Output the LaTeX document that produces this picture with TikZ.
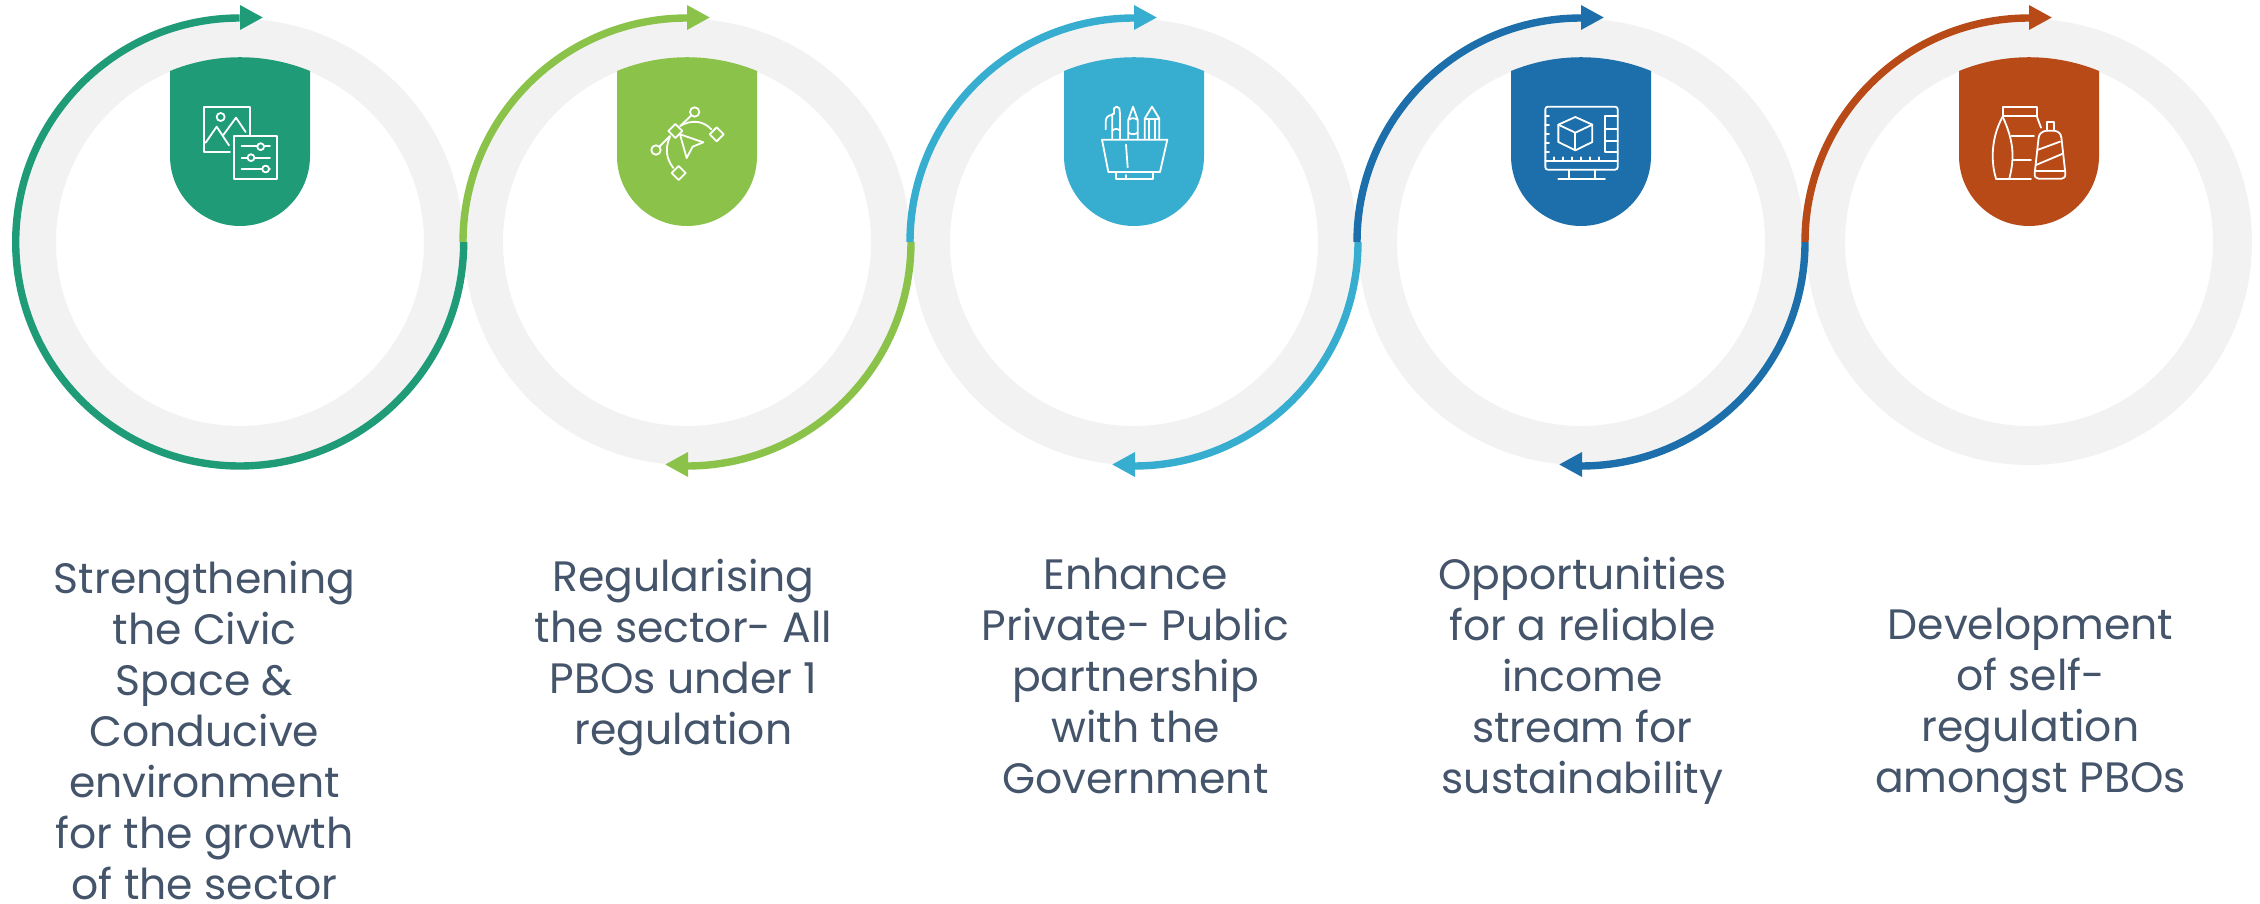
\documentclass[tikz,border=0pt]{standalone}
\usepackage{fontspec}
\setmainfont{Poppins}
\definecolor{cgreen}{HTML}{1F9C77}
\definecolor{clime}{HTML}{8BC34A}
\definecolor{csky}{HTML}{37AED0}
\definecolor{cblue}{HTML}{1C6FAB}
\definecolor{crust}{HTML}{B84A18}
\definecolor{cring}{HTML}{F2F2F2}
\definecolor{ctext}{HTML}{44546A}
\tikzset{
  ringline/.style={draw=cring,line width=39pt},
  arcline/.style={line width=7.4pt},
  iconline/.style={draw=white,line width=1.8pt,line join=round,line cap=round},
  caption/.style={text=ctext,align=center,font=\fontsize{42.5}{51}\selectfont,inner sep=0pt},
  iconscope/.style={x=0.33333pt,y=-0.33333pt}
}
% ring at centre x
\newcommand{\myring}[1]{\draw[ringline] (#1,242) circle[radius=203.5pt];}
% upper-left arc with arrow head
\newcommand{\myupper}[2]{%
  \draw[arcline,draw=#2] (#1-224,242) arc[start angle=180,end angle=90,radius=224pt];
  \fill[#2] (#1,5) -- (#1+22.7,17.5) -- (#1,30) -- cycle;}
% lower-right arc with arrow head
\newcommand{\mylower}[2]{%
  \draw[arcline,draw=#2] (#1+224,242) arc[start angle=0,end angle=-90,radius=224pt];
  \fill[#2] (#1+1,452) -- (#1-21.7,464.5) -- (#1+1,477) -- cycle;}
\newcommand{\myshield}[2]{%
  \fill[#2] (#1-70,71) arc[start angle=112.25,end angle=67.75,radius=185pt]
    -- (#1+70,156) arc[start angle=0,end angle=-180,radius=70pt] -- cycle;}
\newcommand{\mydiamond}[2]{(#1-21,#2) -- (#1,#2-21) -- (#1+21,#2) -- (#1,#2+21) -- cycle}
\begin{document}
\begin{tikzpicture}[x=1pt,y=-1pt]
\useasboundingbox (0,0) rectangle (2260,904);
\myring{240}\myring{687}\myring{1134}\myring{1581}\myring{2029}
% first circle: three quarters
\draw[arcline,draw=cgreen] (463.7,242) arc[start angle=0,end angle=-270,radius=224pt];
\fill[cgreen] (240,5) -- (262.7,17.5) -- (240,30) -- cycle;
\myupper{687}{clime}\mylower{687}{clime}
\myupper{1134}{csky}\mylower{1134}{csky}
\myupper{1581}{cblue}\mylower{1581}{cblue}
\myupper{2029}{crust}
\myshield{240}{cgreen}\myshield{687}{clime}\myshield{1134}{csky}\myshield{1581}{cblue}\myshield{2029}{crust}
% icon 1
\begin{scope}[iconscope,shift={(140pt,0pt)}]
\draw[iconline] (270,456) -- (193,456) -- (193,320) -- (330,320) -- (330,405);
\draw[iconline] (242,351) circle[radius=4pt];
\draw[iconline] (197,428) -- (230,380) -- (267,436);
\draw[iconline] (250,405) -- (288,353) -- (317,396);
\draw[iconline] (282,409) rectangle (411,537);
\draw[iconline] (305,439) -- (390,439);
\draw[iconline] (305,473) -- (390,473);
\draw[iconline] (305,507) -- (390,507);
\draw[iconline,fill=cgreen] (362,440) circle[radius=3.4pt];
\draw[iconline,fill=cgreen] (333,473) circle[radius=3.4pt];
\draw[iconline,fill=cgreen] (377,507) circle[radius=3.4pt];
\end{scope}
% icon 2
\begin{scope}[iconscope,shift={(590pt,-40pt)}]
\draw[iconline] \mydiamond{256}{273};
\draw[iconline] \mydiamond{380}{283};
\draw[iconline] \mydiamond{266}{399};
\draw[iconline] (314,216) circle[radius=4.7pt];
\draw[iconline] (198,330) circle[radius=4.7pt];
\draw[iconline] (272,257) -- (304,226);
\draw[iconline] (240,288) -- (208,320);
\draw[iconline] (270,258) .. controls (305,238) and (340,242) .. (364,268);
\draw[iconline] (240,290) .. controls (222,330) and (232,360) .. (250,384);
\draw[iconline] (270,283) -- (340,307) -- (308,320) -- (290,354) -- cycle;
\end{scope}
% icon 3
\begin{scope}[iconscope,shift={(1040pt,-40pt)}]
\draw[iconline] (186,299) -- (382,299) -- (360,396) -- (205,396) -- cycle;
\draw[iconline] (228,396) -- (228,417) -- (340,417) -- (340,396);
\draw[iconline] (258,314) -- (263,382);
\draw[iconline] (259,405) -- (259,417);
\draw[iconline] (217,297) -- (217,222) -- (222,222) -- (222,205) .. controls (225,198) and (235,198) .. (238,205) -- (240,222) -- (240,297);
\draw[iconline] (217,225) .. controls (205,225) and (197,232) .. (197,245) -- (197,268);
\draw[iconline] (217,272) .. controls (224,265) and (233,265) .. (240,272);
\draw[iconline] (265,297) -- (265,240) -- (279,200) -- (293,240) -- (293,297);
\draw[iconline] (265,240) .. controls (272,233) and (286,233) .. (293,240);
\draw[iconline] (265,278) .. controls (272,284) and (286,284) .. (293,278);
\draw[iconline] (314,297) -- (314,236) -- (336,200) -- (358,236) -- (358,297);
\draw[iconline] (314,236) -- (358,236);
\draw[iconline] (328,236) -- (328,297);
\draw[iconline] (344,236) -- (344,297);
\end{scope}
% icon 4
\begin{scope}[iconscope,shift={(1490pt,-40pt)}]
\draw[iconline,rounded corners=2.5pt] (166,200) rectangle (383,389);
\draw[iconline] (166,364) -- (383,364);
\draw[iconline] (236,389) -- (236,415);
\draw[iconline] (314,389) -- (314,415);
\draw[iconline] (205,416) -- (345,416);
\draw[iconline] (383,227) -- (345,227) -- (345,335) -- (383,335);
\draw[iconline] (345,267) -- (383,267);
\draw[iconline] (345,303) -- (383,303);
\draw[iconline] (205,254) -- (256,231) -- (307,254) -- (307,306) -- (256,331) -- (205,306) -- cycle;
\draw[iconline] (205,254) -- (256,278) -- (307,254);
\draw[iconline] (256,278) -- (256,331);
\foreach \ty in {229,256,283,310,337} \draw[iconline] (166,\ty) -- (177,\ty);
\foreach \tx in {192,219,246,273,300,328} \draw[iconline] (\tx,364) -- (\tx,352);
\end{scope}
% icon 5
\begin{scope}[iconscope,shift={(1930pt,-40pt)}]
\draw[iconline] (218,201) rectangle (320,228);
\draw[iconline] (198,416) .. controls (178,350) and (190,280) .. (218,230);
\draw[iconline] (218,230) .. controls (250,300) and (255,350) .. (238,416);
\draw[iconline] (198,416) -- (303,416);
\draw[iconline] (245,287) -- (312,287);
\draw[iconline] (250,361) -- (303,361);
\draw[iconline] (320,228) -- (333,263);
\draw[iconline] (350,272) -- (350,245) -- (372,245) -- (372,272);
\draw[iconline] (350,272) -- (372,272) .. controls (385,274) and (392,280) .. (394,292) -- (406,400) .. controls (407,410) and (402,416) .. (395,416) -- (325,416) .. controls (318,416) and (313,410) .. (314,400) -- (326,292) .. controls (328,280) and (337,274) .. (350,272);
\draw[iconline] (322,330) -- (390,305);
\draw[iconline] (318,375) -- (396,342);
\draw[iconline] (315,392) -- (405,392);
\end{scope}
% captions
\node[caption] (t1) at (204.5,731) {Strengthening\\the Civic\\Space \&\\Conducive\\environment\\for the growth\\of the sector};
\node[caption] (t2) at (683.5,658) {Regularising\\the sector- All\\PBOs under 1\\regulation};
\node[caption] (t3) at (1135.5,676) {Enhance\\Private- Public\\partnership\\with the\\Government};
\node[caption] (t4) at (1582.5,680.5) {Opportunities\\for a reliable\\income\\stream for\\sustainability};
\node[caption] (t5) at (2030.5,706) {Development\\of self-\\regulation\\amongst PBOs};
\end{tikzpicture}
\end{document}
